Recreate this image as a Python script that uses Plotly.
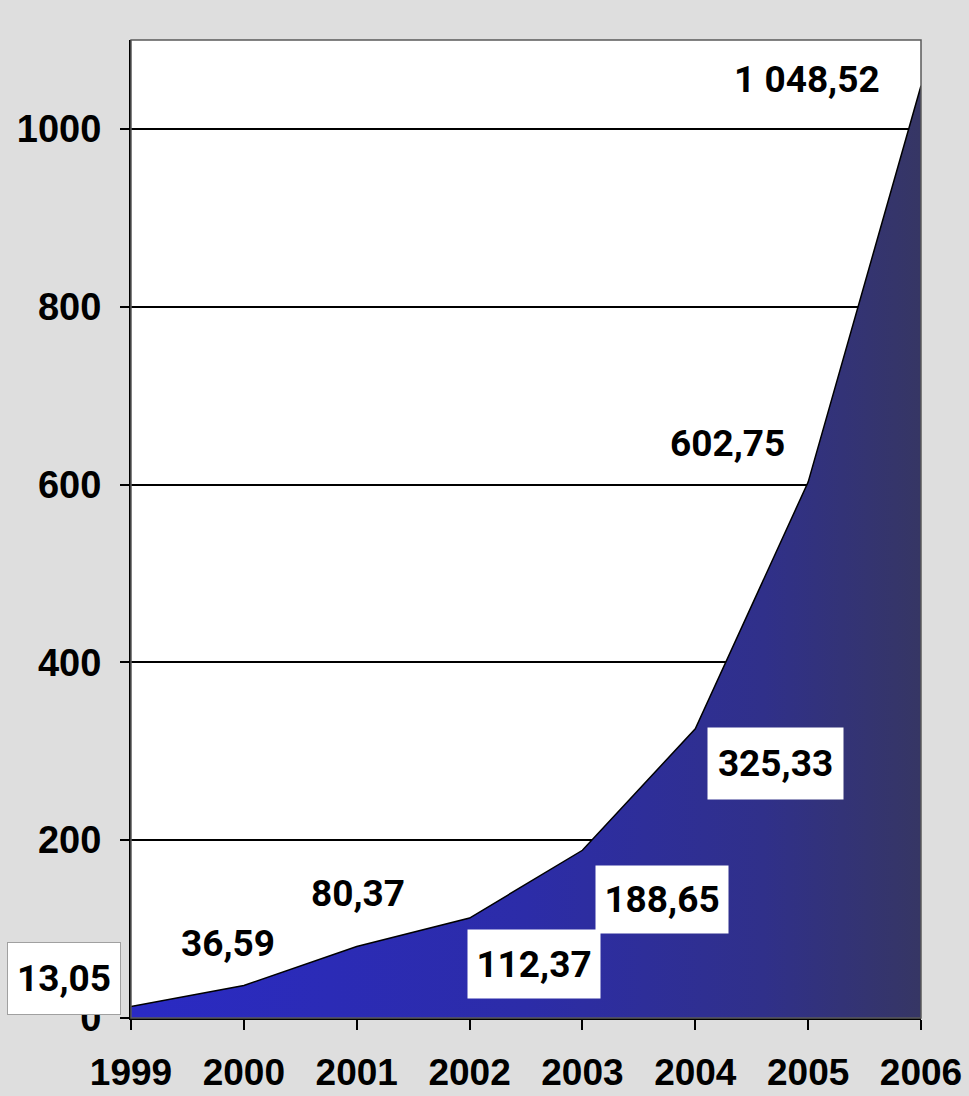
import plotly.graph_objects as go

# Yearly totals
years = [1999, 2000, 2001, 2002, 2003, 2004, 2005, 2006]
values = [13.05, 36.59, 80.37, 112.37, 188.65, 325.33, 602.75, 1048.52]
value_labels = ["13,05", "36,59", "80,37", "112,37", "188,65", "325,33", "602,75", "1 048,52"]
year_labels = [str(y) for y in years]
y_ticks = [0, 200, 400, 600, 800, 1000]

# label placement (pixel offsets from each point) and optional white box size
label_style = {
    1999: dict(xshift=-67, yshift=28, box=(112, 71), border="#a0a0a0"),
    2000: dict(xshift=-16, yshift=42, box=None, border=None),
    2001: dict(xshift=1, yshift=53, box=None, border=None),
    2002: dict(xshift=64, yshift=-46, box=(132, 68), border=None),
    2003: dict(xshift=80, yshift=-49, box=(132, 67), border=None),
    2004: dict(xshift=80, yshift=-35, box=(135, 71), border=None),
    2005: dict(xshift=-81, yshift=39, box=None, border=None),
    2006: dict(xshift=-114, yshift=6, box=None, border=None),
}

fig = go.Figure()
fig.add_trace(go.Scatter(
    x=years, y=values,
    mode="lines",
    line=dict(color="black", width=1.5),
    fill="tozeroy",
    fillgradient=dict(
        type="horizontal",
        colorscale=[[0, "#2a2ac4"], [0.5, "#2c2ca8"], [0.8, "#30308a"], [1, "#363664"]],
    ),
    hoverinfo="skip",
    showlegend=False,
))

label_font = dict(family="Roboto", size=37, color="black", weight="bold")
for yr, val, txt in zip(years, values, value_labels):
    st = label_style[yr]
    ann = dict(x=yr, y=val, xref="x", yref="y", text=txt, showarrow=False,
               xshift=st["xshift"], yshift=st["yshift"], font=label_font,
               xanchor="center", yanchor="middle")
    if st["box"]:
        ann.update(bgcolor="white", width=st["box"][0], height=st["box"][1],
                   borderpad=0, align="center", valign="middle")
        if st["border"]:
            ann.update(bordercolor=st["border"], borderwidth=1)
    fig.add_annotation(**ann)

# plot-area frame
fig.add_shape(type="rect", xref="paper", yref="paper", x0=0, x1=1, y0=0, y1=1,
              line=dict(color="#5a5a5a", width=1.5), layer="above")

y_tick_font = dict(family="Liberation Sans", size=38, color="black", weight="bold")
x_tick_font = dict(family="Liberation Sans", size=37, color="black", weight="bold")
fig.update_layout(
    width=969, height=1096,
    margin=dict(l=131, r=48, t=40, b=78),
    paper_bgcolor="#dedede",
    plot_bgcolor="white",
    xaxis=dict(
        range=[1999, 2006], tickvals=years, ticktext=year_labels,
        showgrid=False, zeroline=False, automargin=False,
        showline=True, linecolor="black", linewidth=2,
        ticks="outside", ticklen=10, tickwidth=2, tickcolor="black",
        tickfont=x_tick_font, ticklabelstandoff=11,
    ),
    yaxis=dict(
        range=[0, 1100], tickvals=y_ticks, ticktext=[str(v) for v in y_ticks],
        showgrid=True, gridcolor="black", gridwidth=1.5, zeroline=False, automargin=False,
        showline=True, linecolor="black", linewidth=2,
        ticks="outside", ticklen=9, tickwidth=1.5, tickcolor="black",
        tickfont=y_tick_font, ticklabelstandoff=11,
    ),
)

fig.write_html("out.html")
